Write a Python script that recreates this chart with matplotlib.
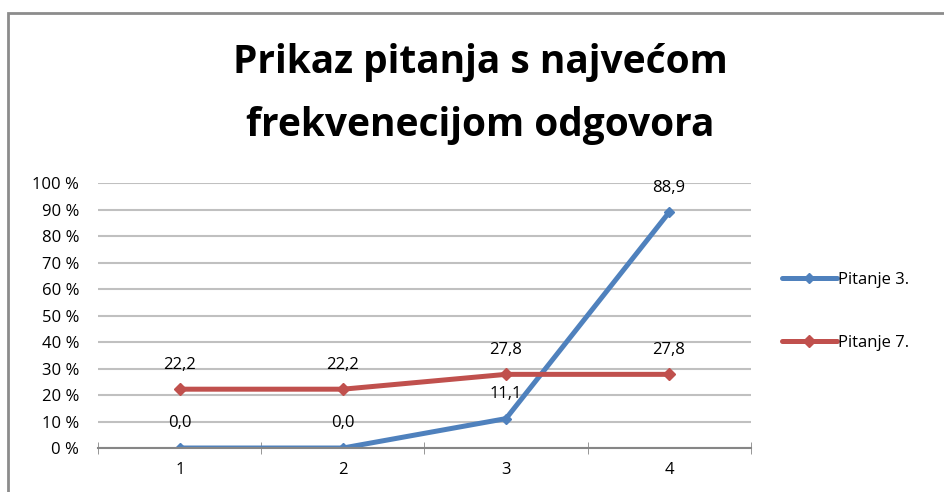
import matplotlib.pyplot as plt
from matplotlib.patches import Rectangle

plt.rcParams['font.family'] = ['Open Sans', 'DejaVu Sans']

categories = [1, 2, 3, 4]
pitanje3 = [0.0, 0.0, 11.1, 88.9]
pitanje7 = [22.2, 22.2, 27.8, 27.8]
yticks = list(range(0, 101, 10))
ytick_labels = [f'{v} %' for v in yticks]

fig = plt.figure(figsize=(9.45, 4.92), dpi=100)
ax = fig.add_axes([0.1042, 0.0894, 0.69, 0.5386])

# chart frame
fig.patches.append(Rectangle((8.5 / 945, -0.05), 1.0, 1 - 12.5 / 492 + 0.05,
                             transform=fig.transFigure, fill=False,
                             edgecolor='#8c8c8c', linewidth=2))

blue = '#4f81bd'
red = '#c0504d'
ax.plot(categories, pitanje3, color=blue, lw=3.6, marker='D', ms=5,
        solid_capstyle='round', solid_joinstyle='round', label='Pitanje 3.')
ax.plot(categories, pitanje7, color=red, lw=3.6, marker='D', ms=6.5,
        solid_capstyle='round', solid_joinstyle='round', label='Pitanje 7.')

for series in (pitanje3, pitanje7):
    for x, v in zip(categories, series):
        ax.annotate(f'{v:.1f}'.replace('.', ','), (x, v), xytext=(0, 12),
                    textcoords='offset points', ha='center', va='bottom',
                    fontsize=12)

ax.set_xlim(0.5, 4.5)
ax.set_ylim(0, 100)
ax.set_yticks(yticks)
ax.set_yticklabels(ytick_labels, fontsize=12)
ax.set_xticks(categories)
ax.set_xticklabels([str(c) for c in categories], fontsize=12)
ax.xaxis.set_minor_locator(plt.FixedLocator([0.5, 1.5, 2.5, 3.5, 4.5]))
ax.tick_params(axis='x', which='major', length=0, pad=10)
ax.tick_params(axis='x', which='minor', length=8, direction='inout', color='#868686')
ax.tick_params(axis='y', length=0, pad=14)
ax.grid(axis='y', color='#c0c0c0', lw=1.5)
ax.set_axisbelow(True)
for s in ['top', 'right', 'left']:
    ax.spines[s].set_visible(False)
ax.spines['bottom'].set_color('#868686')
ax.spines['bottom'].set_linewidth(1.5)

fig.text(0.508, 1 - 62 / 492, 'Prikaz pitanja s najvećom',
         ha='center', va='center', fontsize=28, fontweight='bold')
fig.text(0.508, 1 - 125 / 492, 'frekvenecijom odgovora',
         ha='center', va='center', fontsize=28, fontweight='bold')

ax.legend(loc='center left', bbox_to_anchor=(1.025, 0.515), frameon=False,
          fontsize=12, handlelength=3.3, handletextpad=0.1, labelspacing=2.85)

fig.savefig('out.png', dpi=100)
